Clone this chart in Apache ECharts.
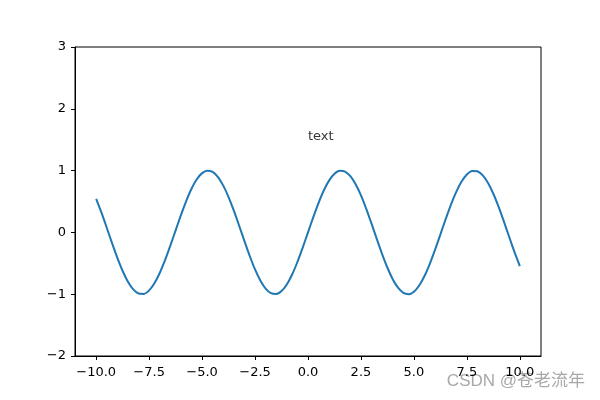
<!DOCTYPE html>
<html><head><meta charset="utf-8">
<script src="https://cdn.jsdelivr.net/npm/echarts@6/dist/echarts.min.js"></script>
<style>html,body{margin:0;padding:0;background:#fff}#c{width:600px;height:400px}</style>
</head><body><div id="c"></div>
<script>
const xValues = [-10,-9.75,-9.5,-9.25,-9,-8.75,-8.5,-8.25,-8,-7.75,-7.5,-7.25,-7,-6.75,-6.5,-6.25,-6,-5.75,-5.5,-5.25,-5,-4.75,-4.5,-4.25,-4,-3.75,-3.5,-3.25,-3,-2.75,-2.5,-2.25,-2,-1.75,-1.5,-1.25,-1,-0.75,-0.5,-0.25,0,0.25,0.5,0.75,1,1.25,1.5,1.75,2,2.25,2.5,2.75,3,3.25,3.5,3.75,4,4.25,4.5,4.75,5,5.25,5.5,5.75,6,6.25,6.5,6.75,7,7.25,7.5,7.75,8,8.25,8.5,8.75,9,9.25,9.5,9.75,10];
const yValues = [0.544,0.320,0.075,-0.174,-0.412,-0.625,-0.799,-0.923,-0.989,-0.995,-0.938,-0.823,-0.657,-0.450,-0.215,0.033,0.279,0.508,0.706,0.859,0.959,0.999,0.978,0.895,0.757,0.572,0.351,0.108,-0.141,-0.382,-0.599,-0.778,-0.909,-0.984,-0.998,-0.949,-0.842,-0.682,-0.479,-0.247,0,0.247,0.479,0.682,0.842,0.949,0.998,0.984,0.909,0.778,0.599,0.382,0.141,-0.108,-0.351,-0.572,-0.757,-0.895,-0.978,-0.999,-0.959,-0.859,-0.706,-0.508,-0.279,-0.033,0.215,0.450,0.657,0.823,0.938,0.995,0.989,0.923,0.799,0.625,0.412,0.174,-0.075,-0.320,-0.544];
const xTicks = [-10,-7.5,-5,-2.5,0,2.5,5,7.5,10];
const yTicks = [-2,-1,0,1,2,3];
const annotation = {x: 0, y: 1.5, text: 'text'};
const watermark = 'CSDN @苍老流年';

const font = 'DejaVu Sans';
const fmt = v => Number(v).toFixed(1).replace('-', '\u2212');
const fmtY = v => String(v).replace('-', '\u2212');

const chart = echarts.init(document.getElementById('c'), null, {renderer: 'canvas'});
chart.setOption({
  animation: false,
  backgroundColor: '#fff',
  grid: {left: 75, right: 59, top: 47, bottom: 44, show: true, borderColor: '#000', borderWidth: 1, backgroundColor: 'transparent'},
  xAxis: {
    type: 'value', min: -11, max: 11,
    splitLine: {show: false},
    axisLine: {show: true, onZero: false, lineStyle: {color: '#000', width: 1}},
    axisTick: {show: true, inside: false, length: 4, lineStyle: {color: '#000'}, customValues: xTicks},
    axisLabel: {color: '#000', fontFamily: font, fontSize: 13, margin: 10, customValues: xTicks, formatter: fmt}
  },
  yAxis: {
    type: 'value', min: -2, max: 3,
    splitLine: {show: false},
    axisLine: {show: true, onZero: false, lineStyle: {color: '#000', width: 1}},
    axisTick: {show: true, inside: false, length: 4, lineStyle: {color: '#000'}, customValues: yTicks},
    axisLabel: {color: '#000', fontFamily: font, fontSize: 13, margin: 9, customValues: yTicks, formatter: fmtY}
  },
  series: [
    {
      type: 'line', data: xValues.map((x, i) => [x, yValues[i]]),
      smooth: 0.2, showSymbol: false, symbol: 'none',
      lineStyle: {color: '#1f77b4', width: 2}
    },
    {
      type: 'scatter', data: [[annotation.x, annotation.y]], symbolSize: 0.001,
      label: {show: true, formatter: annotation.text, position: [0, 0], align: 'left', verticalAlign: 'bottom',
        offset: [0, 3], color: '#000', fontFamily: font, fontSize: 13},
      silent: true
    }
  ],
  graphic: [{
    type: 'text', right: 15, top: 373,
    style: {text: watermark, fill: '#a8a8a8', font: '17px "Liberation Sans", "Noto Sans CJK SC", sans-serif'}
  }]
});
</script></body></html>
